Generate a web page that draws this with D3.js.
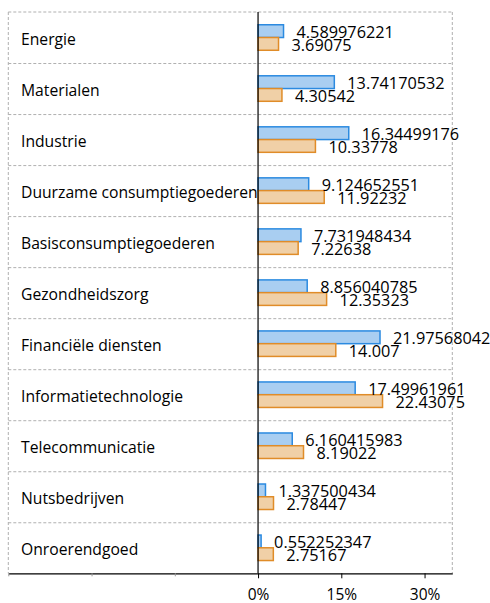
<!DOCTYPE html>
<html><head><meta charset="utf-8">
<script src="https://cdn.jsdelivr.net/npm/d3@7"></script>
<style>html,body{margin:0;padding:0;background:#fff;}svg{display:block;}</style>
</head><body>
<svg id="chart" width="490" height="603"></svg>
<script>
const categories = ["Energie","Materialen","Industrie","Duurzame consumptiegoederen","Basisconsumptiegoederen","Gezondheidszorg","Financiële diensten","Informatietechnologie","Telecommunicatie","Nutsbedrijven","Onroerendgoed"];
const seriesA = [4.589976221,13.74170532,16.34499176,9.124652551,7.731948434,8.856040785,21.97568042,17.49961961,6.160415983,1.337500434,0.552252347];
const seriesB = [3.69075,4.30542,10.33778,11.92232,7.22638,12.35323,14.007,22.43075,8.19022,2.78447,2.75167];
const seriesLabelsA = ["4.589976221","13.74170532","16.34499176","9.124652551","7.731948434","8.856040785","21.97568042","17.49961961","6.160415983","1.337500434","0.552252347"];
const seriesLabelsB = ["3.69075","4.30542","10.33778","11.92232","7.22638","12.35323","14.007","22.43075","8.19022","2.78447","2.75167"];
const xTicks = [-45,-30,-15,0,15,30];
const xDomain = [-45,35];

const svg = d3.select("#chart");
const mLeft = 8.3, mRight = 452.3, mTop = 12, mBottom = 573.3;
const x = d3.scaleLinear().domain(xDomain).range([mLeft,mRight]);
const y = d3.scaleBand().domain(categories).range([mTop,mBottom]);
const sub = d3.scaleBand().domain(["A","B"]).range([0, 25.5]);
const font = "'Open Sans', sans-serif";
const gray = "#b0b0b0";

const g = svg.append("g");
g.append("line").attr("x1",mLeft).attr("x2",mRight).attr("y1",mTop).attr("y2",mTop)
  .attr("stroke",gray).attr("stroke-dasharray","3,2");
g.append("line").attr("x1",mLeft).attr("x2",mLeft).attr("y1",mTop).attr("y2",mBottom)
  .attr("stroke",gray).attr("stroke-dasharray","3,2");
g.append("line").attr("x1",mRight).attr("x2",mRight).attr("y1",mTop).attr("y2",mBottom)
  .attr("stroke",gray).attr("stroke-dasharray","3,2");
g.selectAll("line.sep").data(categories.slice(1)).join("line").attr("class","sep")
  .attr("x1",mLeft).attr("x2",mRight)
  .attr("y1",d=>y(d)+0.5).attr("y2",d=>y(d)+0.5)
  .attr("stroke",gray).attr("stroke-dasharray","3,2");

g.selectAll("text.cat").data(categories).join("text").attr("class","cat")
  .attr("x",21).attr("y",d=>y(d)+y.bandwidth()/2+7.5)
  .attr("font-family",font).attr("font-size",15.7).attr("fill","#000")
  .text(d=>d);

const off = (y.bandwidth()-25.5)/2;
const rows = categories.map((c,i)=>({c,a:seriesA[i],b:seriesB[i],la:seriesLabelsA[i],lb:seriesLabelsB[i]}));
g.selectAll("rect.a").data(rows).join("rect").attr("class","a")
  .attr("x",x(0)).attr("y",d=>y(d.c)+off+sub("A"))
  .attr("width",d=>x(d.a)-x(0)).attr("height",sub.bandwidth())
  .attr("fill","#a9cef1").attr("stroke","#2b8ae0").attr("stroke-width",1.5);
g.selectAll("rect.b").data(rows).join("rect").attr("class","b")
  .attr("x",x(0)).attr("y",d=>y(d.c)+off+sub("B"))
  .attr("width",d=>x(d.b)-x(0)).attr("height",sub.bandwidth())
  .attr("fill","#f0d0a7").attr("stroke","#e08c28").attr("stroke-width",1.5);
g.selectAll("text.la").data(rows).join("text").attr("class","la")
  .attr("x",d=>x(d.a)+13).attr("y",d=>y(d.c)+off+sub("A")+sub.bandwidth()/2+7)
  .attr("font-family",font).attr("font-size",16.3).text(d=>d.la);
g.selectAll("text.lb").data(rows).join("text").attr("class","lb")
  .attr("x",d=>x(d.b)+13).attr("y",d=>y(d.c)+off+sub("B")+sub.bandwidth()/2+7)
  .attr("font-family",font).attr("font-size",16.3).text(d=>d.lb);

g.append("line").attr("x1",x(0)).attr("x2",x(0)).attr("y1",mTop).attr("y2",mBottom)
  .attr("stroke","#000").attr("stroke-width",1.2);

const ax = svg.append("g").attr("transform",`translate(0,${mBottom})`)
  .call(d3.axisBottom(x).tickValues(xTicks).tickSize(5).tickSizeOuter(0)
    .tickFormat(d=>d>=0?d+"%":""));
ax.select(".domain").attr("stroke","#000").attr("stroke-width",1.2);
ax.selectAll(".tick line").attr("stroke","#000");
ax.selectAll(".tick text").attr("font-family",font).attr("font-size",15.5)
  .attr("fill","#000").attr("dy",0).attr("y",27);
ax.selectAll(".tick").filter(d=>d<0).select("line").attr("stroke","#999").attr("y2",3);
</script>
</body></html>
